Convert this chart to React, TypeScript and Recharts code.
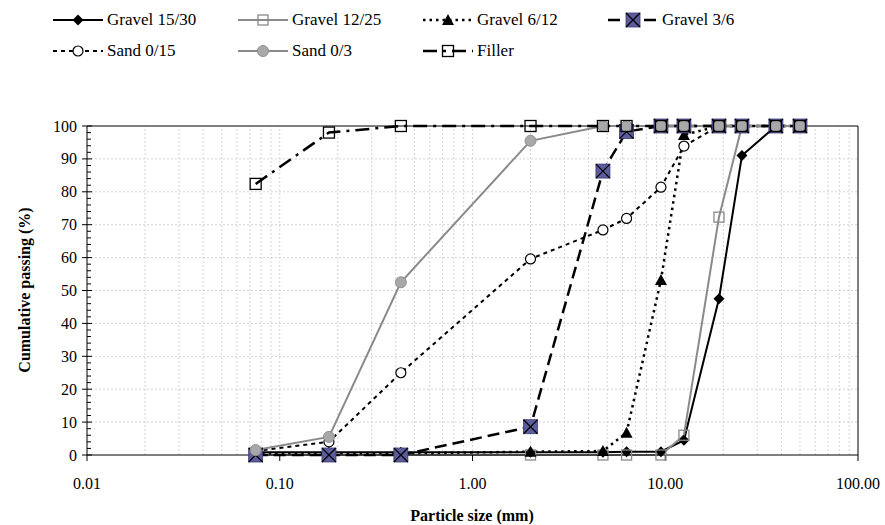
import React from 'react';
import { LineChart, Line, XAxis, YAxis, ReferenceLine } from 'recharts';

// Sieve sizes (mm)
const SIEVES = [0.075, 0.18, 0.425, 2, 4.75, 6.3, 9.5, 12.5, 19, 25, 37.5, 50];
// Cumulative passing (%)
const GRAVEL_15_30 = [0.8, 0.8, 0.8, 0.8, 0.8, 1, 1, 4.5, 47.5, 91, 100, 100];
const GRAVEL_12_25 = [0, 0, 0, 0, 0, 0, 0, 6, 72.3, 100, 100, 100];
const GRAVEL_6_12 = [0.5, 0.5, 0.5, 1, 1.2, 6.8, 53.2, 97.3, 100, 100, 100, 100];
const GRAVEL_3_6 = [0, 0, 0, 8.6, 86.3, 98.3, 100, 100, 100, 100, 100, 100];
const SAND_0_15 = [1.2, 4, 25, 59.6, 68.4, 71.9, 81.4, 93.9, 100, 100, 100, 100];
const SAND_0_3 = [1.5, 5.5, 52.5, 95.5, 100, 100, 100, 100, 100, 100, 100, 100];
const FILLER = [82.4, 98, 100, 100, 100, 100, 100, 100, 100, 100, 100, 100];

const X_TICKS = [0.01, 0.1, 1, 10, 100];
const X_GRID = [
  0.02, 0.03, 0.04, 0.05, 0.06, 0.07, 0.08, 0.09, 0.1,
  0.2, 0.3, 0.4, 0.5, 0.6, 0.7, 0.8, 0.9, 1,
  2, 3, 4, 5, 6, 7, 8, 9, 10,
  20, 30, 40, 50, 60, 70, 80, 90,
];
const Y_GRID = [10, 20, 30, 40, 50, 60, 70, 80, 90];
const Y_TICKS = [
  0, 2, 4, 6, 8, 10, 12, 14, 16, 18, 20, 22, 24, 26, 28, 30, 32, 34, 36, 38, 40,
  42, 44, 46, 48, 50, 52, 54, 56, 58, 60, 62, 64, 66, 68, 70, 72, 74, 76, 78, 80,
  82, 84, 86, 88, 90, 92, 94, 96, 98, 100,
];

const data = SIEVES.map((s, i) => ({
  size: s,
  g1530: GRAVEL_15_30[i],
  g1225: GRAVEL_12_25[i],
  g612: GRAVEL_6_12[i],
  g36: GRAVEL_3_6[i],
  s015: SAND_0_15[i],
  s03: SAND_0_3[i],
  filler: FILLER[i],
}));

const FONT = '"Liberation Serif", "Times New Roman", Times, serif';
const GREY = '#8a8a8a';
const BLUE = '#5d5c9c';

type M = { cx: number; cy: number };

const Diamond = ({ cx, cy }: M) => (
  <polygon points={`${cx},${cy - 5.5} ${cx + 5.5},${cy} ${cx},${cy + 5.5} ${cx - 5.5},${cy}`} fill="#000" />
);
const GreySquare = ({ cx, cy }: M) => (
  <rect x={cx - 5} y={cy - 5} width={10} height={10} fill="none" stroke={GREY} strokeWidth={1.3} />
);
const Triangle = ({ cx, cy }: M) => (
  <polygon points={`${cx},${cy - 6} ${cx + 6},${cy + 5} ${cx - 6},${cy + 5}`} fill="#000" />
);
const XSquare = ({ cx, cy }: M) => (
  <g>
    <rect x={cx - 7} y={cy - 7} width={14} height={14} fill={BLUE} stroke="#3c3b70" strokeWidth={0.8} />
    <line x1={cx - 7} y1={cy - 7} x2={cx + 7} y2={cy + 7} stroke="#000" strokeWidth={1.2} />
    <line x1={cx + 7} y1={cy - 7} x2={cx - 7} y2={cy + 7} stroke="#000" strokeWidth={1.2} />
  </g>
);
const OpenCircle = ({ cx, cy }: M) => (
  <circle cx={cx} cy={cy} r={5} fill="#fff" stroke="#000" strokeWidth={1.2} />
);
const GreyCircle = ({ cx, cy }: M) => (
  <circle cx={cx} cy={cy} r={5.5} fill="#a8a8a8" stroke="#909090" strokeWidth={1} />
);
const OpenSquare = ({ cx, cy }: M) => (
  <rect x={cx - 5.5} y={cy - 5.5} width={11} height={11} fill="none" stroke="#000" strokeWidth={1.3} />
);

const dotOf = (Comp: (p: M) => React.ReactElement, name: string) => (p: any) => (
  <Comp key={`${name}-${p.index}`} cx={p.cx} cy={p.cy} />
);

const SERIES = [
  { key: 'g1530', name: 'Gravel 15/30', stroke: '#000', width: 2, dash: undefined, Marker: Diamond },
  { key: 'g1225', name: 'Gravel 12/25', stroke: GREY, width: 2, dash: undefined, Marker: GreySquare },
  { key: 'g612', name: 'Gravel 6/12', stroke: '#000', width: 2.5, dash: '2.5 4', Marker: Triangle },
  { key: 's015', name: 'Sand 0/15', stroke: '#000', width: 2, dash: '4 4', Marker: OpenCircle },
  { key: 'g36', name: 'Gravel 3/6', stroke: '#000', width: 2.5, dash: '12 6', Marker: XSquare },
  { key: 's03', name: 'Sand 0/3', stroke: GREY, width: 2, dash: undefined, Marker: GreyCircle },
  { key: 'filler', name: 'Filler', stroke: '#000', width: 2.5, dash: '14 6 3 6', Marker: OpenSquare },
];

const LEGEND_ROWS = [
  ['Gravel 15/30', 'Gravel 12/25', 'Gravel 6/12', 'Gravel 3/6'],
  ['Sand 0/15', 'Sand 0/3', 'Filler'],
];

const YTick = (props: any) => {
  const { x, y, payload } = props;
  const v = payload.value;
  const major = v % 10 === 0;
  return (
    <g>
      {major ? (
        <line x1={x - 5} x2={x + 5} y1={y} y2={y} stroke="#000" strokeWidth={1} />
      ) : (
        <line x1={x} x2={x + 4} y1={y} y2={y} stroke="#000" strokeWidth={1} />
      )}
      {major && (
        <text x={x - 10} y={y} textAnchor="end" dominantBaseline="central" fontFamily={FONT} fontSize={16} fill="#000">
          {v}
        </text>
      )}
    </g>
  );
};

const LegendItem = ({ name }: { name: string }) => {
  const s = SERIES.find((d) => d.name === name)!;
  const Mk = s.Marker;
  return (
    <div style={{ display: 'flex', alignItems: 'center', width: 185 }}>
      <svg width={50} height={16} style={{ marginRight: 4 }}>
        <line x1={0} x2={50} y1={8} y2={8} stroke={s.stroke} strokeWidth={s.width} strokeDasharray={s.dash} />
        <Mk cx={25} cy={8} />
      </svg>
      <span style={{ fontFamily: FONT, fontSize: 17, color: '#000', whiteSpace: 'nowrap' }}>{name}</span>
    </div>
  );
};

export default function App() {
  return (
    <div style={{ position: 'absolute', left: 0, top: 0, width: 885, height: 525, background: '#fff' }}>
      <div style={{ position: 'absolute', left: 53, top: 4 }}>
        {LEGEND_ROWS.map((row, ri) => (
          <div key={ri} style={{ display: 'flex', height: 31 }}>
            {row.map((n) => (
              <LegendItem key={n} name={n} />
            ))}
          </div>
        ))}
      </div>
      <div style={{ position: 'absolute', left: 0, top: 0 }}>
        <LineChart width={885} height={525} data={data} margin={{ top: 126, right: 27, bottom: 0, left: 0 }}>
          {X_GRID.map((g) => (
            <ReferenceLine key={`xg${g}`} x={g} stroke="#d4d4d4" strokeDasharray="2 2" strokeWidth={1} />
          ))}
          {Y_GRID.map((g) => (
            <ReferenceLine key={`yg${g}`} y={g} stroke="#d4d4d4" strokeDasharray="2 2" strokeWidth={1} />
          ))}
          <ReferenceLine y={100} stroke="#000" strokeWidth={1} />
          <ReferenceLine x={100} stroke="#000" strokeWidth={1} />
          <XAxis
            dataKey="size"
            type="number"
            scale="log"
            domain={[0.01, 100]}
            allowDataOverflow
            ticks={X_TICKS}
            interval={0}
            tickFormatter={(v: number) => v.toFixed(2)}
            height={70}
            axisLine={{ stroke: '#000', strokeWidth: 1 }}
            tickLine={{ stroke: '#000' }}
            tickSize={6}
            tickMargin={17}
            tick={{ fontFamily: FONT, fontSize: 16, fill: '#000' }}
            label={{
              content: () => (
                <text x={472} y={515} textAnchor="middle" dominantBaseline="central" fontFamily={FONT} fontSize={16} fontWeight="bold" fill="#000">
                  Particle size (mm)
                </text>
              ),
            }}
          />
          <YAxis
            type="number"
            domain={[0, 100]}
            ticks={Y_TICKS}
            interval={0}
            width={87}
            axisLine={{ stroke: '#000', strokeWidth: 1 }}
            tickLine={false}
            tickSize={0}
            tickMargin={0}
            tick={<YTick />}
            label={{
              content: () => (
                <text x={24} y={290} transform="rotate(-90 24 290)" textAnchor="middle" dominantBaseline="central" fontFamily={FONT} fontSize={16} fontWeight="bold" fill="#000">
                  Cumulative passing (%)
                </text>
              ),
            }}
          />
          {SERIES.map((s) => (
            <Line
              key={s.key}
              dataKey={s.key}
              name={s.name}
              type="linear"
              stroke={s.stroke}
              strokeWidth={s.width}
              strokeDasharray={s.dash}
              dot={dotOf(s.Marker, s.key)}
              activeDot={false}
              isAnimationActive={false}
            />
          ))}
        </LineChart>
      </div>
    </div>
  );
}
